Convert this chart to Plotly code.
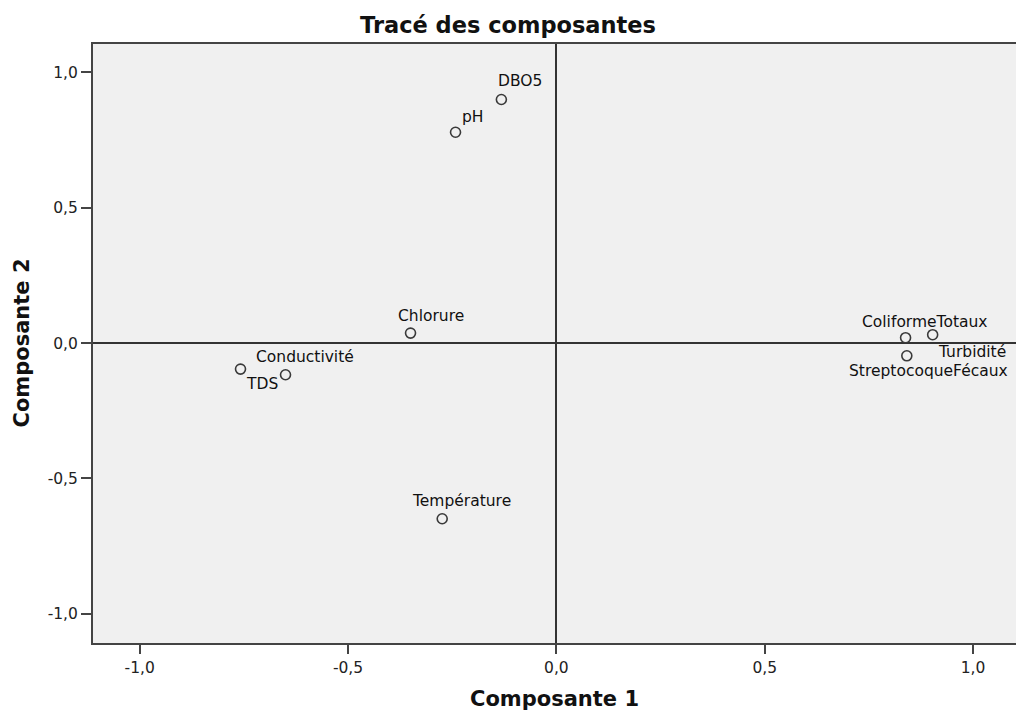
import plotly.graph_objects as go

names = ["DBO5", "pH", "Chlorure", "Conductivité", "TDS", "Température",
         "ColiformeTotaux", "Turbidité", "StreptocoqueFécaux"]
comp1 = [-0.132, -0.242, -0.350, -0.650, -0.758, -0.274, 0.838, 0.903, 0.841]
comp2 = [0.900, 0.779, 0.037, -0.117, -0.096, -0.649, 0.020, 0.031, -0.047]

x_ticks = [-1.0, -0.5, 0.0, 0.5, 1.0]
x_tick_text = ["-1,0", "-0,5", "0,0", "0,5", "1,0"]
y_ticks = [-1.0, -0.5, 0.0, 0.5, 1.0]
y_tick_text = ["-1,0", "-0,5", "0,0", "0,5", "1,0"]

FONT = "DejaVu Sans, Verdana, sans-serif"

# label offsets in pixels (style, not data)
label_shift = {
    "DBO5": (19, 18), "pH": (17, 15), "Chlorure": (20, 17),
    "Conductivité": (19, 18), "TDS": (21, -15), "Température": (19, 18),
    "ColiformeTotaux": (19, 16), "Turbidité": (39, -17),
    "StreptocoqueFécaux": (22, -15),
}

fig = go.Figure()
fig.add_trace(go.Scatter(
    x=comp1, y=comp2, mode="markers",
    marker=dict(symbol="circle-open", size=10, color="#3a3a3a",
                line=dict(width=1.6, color="#3a3a3a")),
    hoverinfo="text", text=names, showlegend=False,
))

for n, xv, yv in zip(names, comp1, comp2):
    dx, dy = label_shift[n]
    fig.add_annotation(x=xv, y=yv, text=n, showarrow=False,
                       xshift=dx, yshift=dy,
                       font=dict(family=FONT, size=15.5, color="#111111"))

# axis titles
fig.add_annotation(x=0.5, y=0, xref="paper", yref="paper", yanchor="middle",
                   yshift=-56, showarrow=False, text="<b>Composante 1</b>",
                   font=dict(family=FONT, size=21, color="#111111"))
fig.add_annotation(x=0, y=0.5, xref="paper", yref="paper", xanchor="center",
                   xshift=-72, showarrow=False, textangle=-90,
                   text="<b>Composante 2</b>",
                   font=dict(family=FONT, size=21, color="#111111"))

fig.update_layout(
    width=1016, height=711,
    margin=dict(l=93, r=0, t=44, b=68),
    paper_bgcolor="white", plot_bgcolor="#f0f0f0",
    title=dict(text="<b>Tracé des composantes</b>", x=0.5, xref="container",
               xanchor="center", y=0.964, yanchor="middle",
               font=dict(family=FONT, size=22.5, color="#111111")),
    font=dict(family=FONT, size=15.5, color="#222222"),
)
fig.update_xaxes(
    range=[-1.112, 1.103], tickvals=x_ticks, ticktext=x_tick_text,
    showgrid=False, zeroline=True, zerolinecolor="#333333", zerolinewidth=1.8,
    showline=True, linecolor="#444444", linewidth=2, mirror=True,
    ticks="outside", ticklen=9, tickcolor="#444444", tickwidth=2,
)
fig.update_yaxes(
    range=[-1.108, 1.105], tickvals=y_ticks, ticktext=y_tick_text,
    showgrid=False, zeroline=True, zerolinecolor="#333333", zerolinewidth=1.8,
    showline=True, linecolor="#444444", linewidth=2, mirror=False,
    ticks="outside", ticklen=10, tickcolor="#444444", tickwidth=2,
)

fig.write_html(
    "out.html",
    config={"displayModeBar": False},
    post_script="document.body.style.margin='0';document.body.style.overflow='hidden';",
)
